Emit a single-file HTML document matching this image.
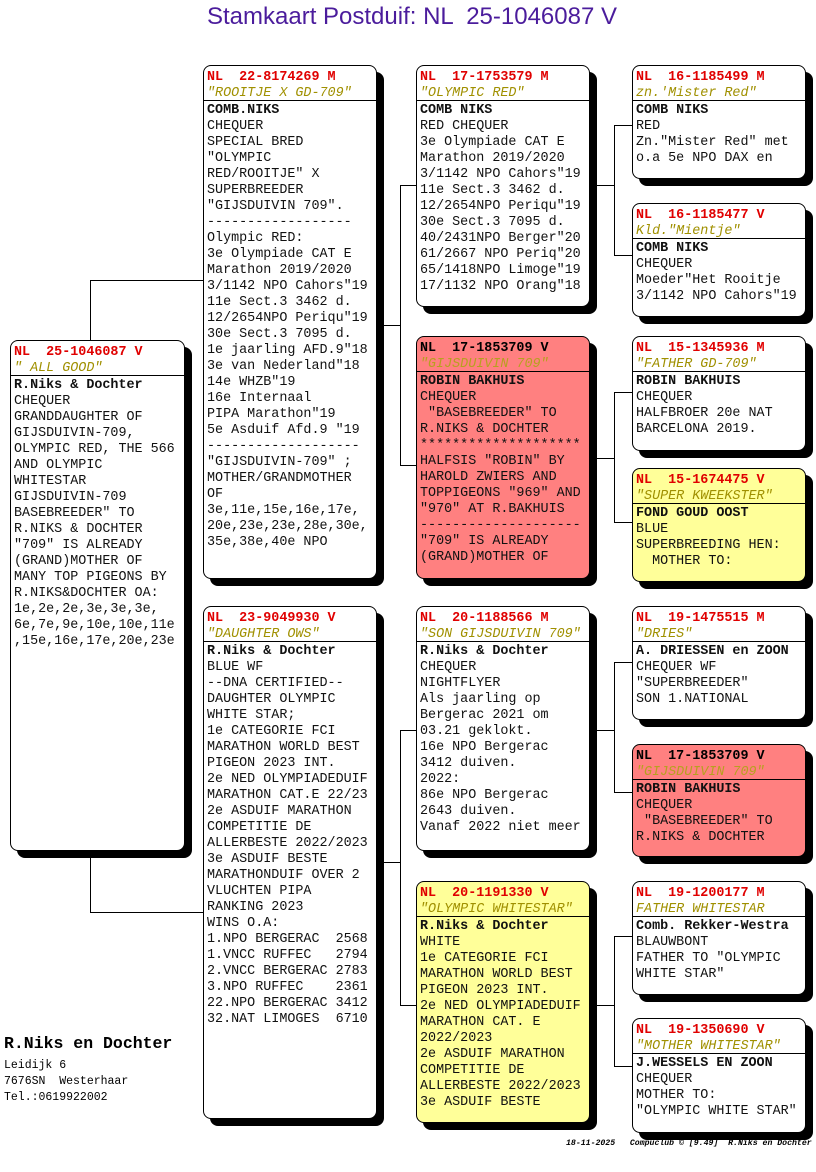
<!DOCTYPE html>
<html><head><meta charset="utf-8"><style>
body{margin:0;width:816px;height:1172px;background:#fff;position:relative;overflow:hidden;font-family:"Liberation Mono","Courier New",monospace;}
.b{position:absolute;border:1px solid #000;border-radius:8px;background:#fff;box-shadow:7px 7px 0 #000;box-sizing:border-box;font-size:13.4px;line-height:16px;color:#111;overflow:hidden}
.h{padding:4px 4px 0 3px;border-bottom:1px solid #000;height:35px;box-sizing:border-box}
.n{color:#e00000;font-weight:bold;font-size:13.4px;line-height:16px;white-space:pre}
.s{color:#a09000;font-style:italic;white-space:pre;line-height:15px}
.t{padding:2px 3px;white-space:pre;letter-spacing:0px}
.t b{font-weight:bold}
.red{background:#ff8080}.red .n{color:#000}.red .s{color:#b8a020}
.yel{background:#ffff99}
.l{position:absolute;background:#000}
</style></head><body>
<div style="position:absolute;left:0;width:824px;top:3px;text-align:center;font-family:'Liberation Sans',sans-serif;font-size:24px;color:#4b1c9c;white-space:pre">Stamkaart Postduif: NL  25-1046087 V</div>

<div class="l" style="left:90px;top:280px;width:1px;height:60px"></div>
<div class="l" style="left:90px;top:280px;width:113px;height:1px"></div>
<div class="l" style="left:90px;top:850px;width:1px;height:62px"></div>
<div class="l" style="left:90px;top:912px;width:113px;height:1px"></div>
<div class="l" style="left:376px;top:325px;width:24px;height:1px"></div>
<div class="l" style="left:400px;top:185px;width:1px;height:280px"></div>
<div class="l" style="left:400px;top:185px;width:16px;height:1px"></div>
<div class="l" style="left:400px;top:465px;width:16px;height:1px"></div>
<div class="l" style="left:376px;top:862px;width:24px;height:1px"></div>
<div class="l" style="left:400px;top:730px;width:1px;height:275px"></div>
<div class="l" style="left:400px;top:730px;width:16px;height:1px"></div>
<div class="l" style="left:400px;top:1005px;width:16px;height:1px"></div>
<div class="l" style="left:589px;top:185px;width:25px;height:1px"></div>
<div class="l" style="left:614px;top:125px;width:1px;height:130px"></div>
<div class="l" style="left:614px;top:125px;width:18px;height:1px"></div>
<div class="l" style="left:614px;top:255px;width:18px;height:1px"></div>
<div class="l" style="left:589px;top:458px;width:25px;height:1px"></div>
<div class="l" style="left:614px;top:392px;width:1px;height:130px"></div>
<div class="l" style="left:614px;top:392px;width:18px;height:1px"></div>
<div class="l" style="left:614px;top:522px;width:18px;height:1px"></div>
<div class="l" style="left:589px;top:730px;width:25px;height:1px"></div>
<div class="l" style="left:614px;top:662px;width:1px;height:130px"></div>
<div class="l" style="left:614px;top:662px;width:18px;height:1px"></div>
<div class="l" style="left:614px;top:792px;width:18px;height:1px"></div>
<div class="l" style="left:589px;top:1005px;width:25px;height:1px"></div>
<div class="l" style="left:614px;top:936px;width:1px;height:130px"></div>
<div class="l" style="left:614px;top:936px;width:18px;height:1px"></div>
<div class="l" style="left:614px;top:1066px;width:18px;height:1px"></div>

<div class="b" style="left:10px;top:340px;width:175px;height:511px"><div class="h"><div class="n">NL  25-1046087 V</div><div class="s">" ALL GOOD"</div></div><div class="t"><b>R.Niks &amp; Dochter</b>
CHEQUER
GRANDDAUGHTER OF
GIJSDUIVIN-709,
OLYMPIC RED, THE 566
AND OLYMPIC
WHITESTAR
GIJSDUIVIN-709
BASEBREEDER" TO
R.NIKS &amp; DOCHTER
"709" IS ALREADY
(GRAND)MOTHER OF
MANY TOP PIGEONS BY
R.NIKS&amp;DOCHTER OA:
1e,2e,2e,3e,3e,3e,
6e,7e,9e,10e,10e,11e
,15e,16e,17e,20e,23e</div></div>

<div class="b" style="left:203px;top:65px;width:174px;height:514px"><div class="h"><div class="n">NL  22-8174269 M</div><div class="s">"ROOITJE X GD-709"</div></div><div class="t"><b>COMB.NIKS</b>
CHEQUER
SPECIAL BRED
"OLYMPIC
RED/ROOITJE" X
SUPERBREEDER
"GIJSDUIVIN 709".
------------------
Olympic RED:
3e Olympiade CAT E
Marathon 2019/2020
3/1142 NPO Cahors"19
11e Sect.3 3462 d.
12/2654NPO Periqu"19
30e Sect.3 7095 d.
1e jaarling AFD.9"18
3e van Nederland"18
14e WHZB"19
16e Internaal
PIPA Marathon"19
5e Asduif Afd.9 "19
-------------------
"GIJSDUIVIN-709" ;
MOTHER/GRANDMOTHER
OF
3e,11e,15e,16e,17e,
20e,23e,23e,28e,30e,
35e,38e,40e NPO</div></div>

<div class="b" style="left:203px;top:606px;width:174px;height:513px"><div class="h"><div class="n">NL  23-9049930 V</div><div class="s">"DAUGHTER OWS"</div></div><div class="t"><b>R.Niks &amp; Dochter</b>
BLUE WF
--DNA CERTIFIED--
DAUGHTER OLYMPIC
WHITE STAR;
1e CATEGORIE FCI
MARATHON WORLD BEST
PIGEON 2023 INT.
2e NED OLYMPIADEDUIF
MARATHON CAT.E 22/23
2e ASDUIF MARATHON
COMPETITIE DE
ALLERBESTE 2022/2023
3e ASDUIF BESTE
MARATHONDUIF OVER 2
VLUCHTEN PIPA
RANKING 2023
WINS O.A:
1.NPO BERGERAC  2568
1.VNCC RUFFEC   2794
2.VNCC BERGERAC 2783
3.NPO RUFFEC    2361
22.NPO BERGERAC 3412
32.NAT LIMOGES  6710</div></div>

<div class="b" style="left:416px;top:65px;width:174px;height:242px"><div class="h"><div class="n">NL  17-1753579 M</div><div class="s">"OLYMPIC RED"</div></div><div class="t"><b>COMB NIKS</b>
RED CHEQUER
3e Olympiade CAT E
Marathon 2019/2020
3/1142 NPO Cahors"19
11e Sect.3 3462 d.
12/2654NPO Periqu"19
30e Sect.3 7095 d.
40/2431NPO Berger"20
61/2667 NPO Periq"20
65/1418NPO Limoge"19
17/1132 NPO Orang"18</div></div>

<div class="b red" style="left:416px;top:336px;width:174px;height:243px"><div class="h"><div class="n">NL  17-1853709 V</div><div class="s">"GIJSDUIVIN 709"</div></div><div class="t"><b>ROBIN BAKHUIS</b>
CHEQUER
 "BASEBREEDER" TO
R.NIKS &amp; DOCHTER
********************
HALFSIS "ROBIN" BY
HAROLD ZWIERS AND
TOPPIGEONS "969" AND
"970" AT R.BAKHUIS
--------------------
"709" IS ALREADY
(GRAND)MOTHER OF</div></div>

<div class="b" style="left:416px;top:606px;width:174px;height:245px"><div class="h"><div class="n">NL  20-1188566 M</div><div class="s">"SON GIJSDUIVIN 709"</div></div><div class="t"><b>R.Niks &amp; Dochter</b>
CHEQUER
NIGHTFLYER
Als jaarling op
Bergerac 2021 om
03.21 geklokt.
16e NPO Bergerac
3412 duiven.
2022:
86e NPO Bergerac
2643 duiven.
Vanaf 2022 niet meer</div></div>

<div class="b yel" style="left:416px;top:881px;width:174px;height:242px"><div class="h"><div class="n">NL  20-1191330 V</div><div class="s">"OLYMPIC WHITESTAR"</div></div><div class="t"><b>R.Niks &amp; Dochter</b>
WHITE
1e CATEGORIE FCI
MARATHON WORLD BEST
PIGEON 2023 INT.
2e NED OLYMPIADEDUIF
MARATHON CAT. E
2022/2023
2e ASDUIF MARATHON
COMPETITIE DE
ALLERBESTE 2022/2023
3e ASDUIF BESTE</div></div>

<div class="b" style="left:632px;top:65px;width:174px;height:114px"><div class="h"><div class="n">NL  16-1185499 M</div><div class="s">zn.'Mister Red"</div></div><div class="t"><b>COMB NIKS</b>
RED
Zn."Mister Red" met
o.a 5e NPO DAX en</div></div>

<div class="b" style="left:632px;top:203px;width:174px;height:114px"><div class="h"><div class="n">NL  16-1185477 V</div><div class="s">Kld."Mientje"</div></div><div class="t"><b>COMB NIKS</b>
CHEQUER
Moeder"Het Rooitje
3/1142 NPO Cahors"19</div></div>

<div class="b" style="left:632px;top:336px;width:174px;height:115px"><div class="h"><div class="n">NL  15-1345936 M</div><div class="s">"FATHER GD-709"</div></div><div class="t"><b>ROBIN BAKHUIS</b>
CHEQUER
HALFBROER 20e NAT
BARCELONA 2019.</div></div>

<div class="b yel" style="left:632px;top:468px;width:174px;height:114px"><div class="h"><div class="n">NL  15-1674475 V</div><div class="s">"SUPER KWEEKSTER"</div></div><div class="t"><b>FOND GOUD OOST</b>
BLUE
SUPERBREEDING HEN:
  MOTHER TO:</div></div>

<div class="b" style="left:632px;top:606px;width:174px;height:114px"><div class="h"><div class="n">NL  19-1475515 M</div><div class="s">"DRIES"</div></div><div class="t"><b>A. DRIESSEN en ZOON</b>
CHEQUER WF
"SUPERBREEDER"
SON 1.NATIONAL</div></div>

<div class="b red" style="left:632px;top:744px;width:174px;height:113px"><div class="h"><div class="n">NL  17-1853709 V</div><div class="s">"GIJSDUIVIN 709"</div></div><div class="t"><b>ROBIN BAKHUIS</b>
CHEQUER
 "BASEBREEDER" TO
R.NIKS &amp; DOCHTER</div></div>

<div class="b" style="left:632px;top:881px;width:174px;height:114px"><div class="h"><div class="n">NL  19-1200177 M</div><div class="s">FATHER WHITESTAR</div></div><div class="t"><b>Comb. Rekker-Westra</b>
BLAUWBONT
FATHER TO "OLYMPIC
WHITE STAR"</div></div>

<div class="b" style="left:632px;top:1018px;width:174px;height:115px"><div class="h"><div class="n">NL  19-1350690 V</div><div class="s">"MOTHER WHITESTAR"</div></div><div class="t"><b>J.WESSELS EN ZOON</b>
CHEQUER
MOTHER TO:
"OLYMPIC WHITE STAR"</div></div>

<div style="position:absolute;left:4px;top:1034px;font-size:16.5px;font-weight:bold;white-space:pre">R.Niks en Dochter</div>
<div style="position:absolute;left:4px;top:1058px;font-size:11.5px;line-height:16px;white-space:pre">Leidijk 6
7676SN  Westerhaar
Tel.:0619922002</div>
<div style="position:absolute;left:566px;top:1139px;font-size:8.2px;font-style:italic;font-weight:bold;white-space:pre">18-11-2025   Compuclub © [9.49]  R.Niks en Dochter</div>
</body></html>
